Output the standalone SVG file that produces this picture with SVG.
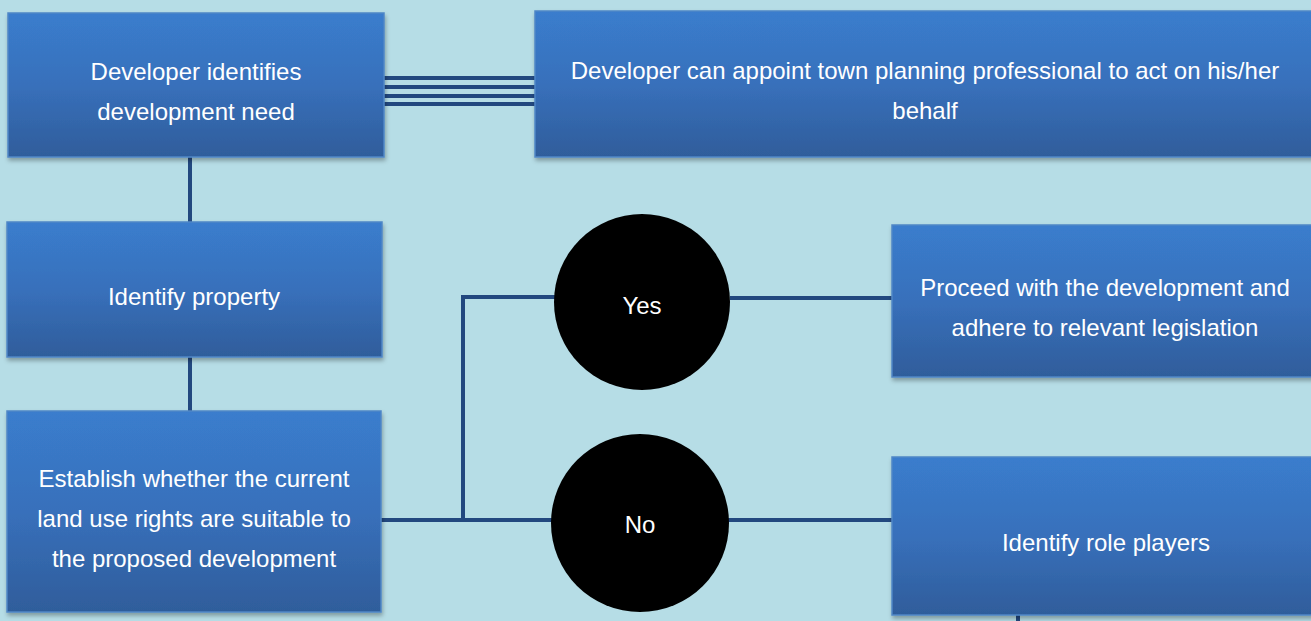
<svg xmlns="http://www.w3.org/2000/svg" width="1311" height="621" viewBox="0 0 1311 621">
<defs>
<linearGradient id="g" x1="0" y1="0" x2="0" y2="1">
<stop offset="0" stop-color="#3a7dcd"/>
<stop offset="0.5" stop-color="#3870bb"/>
<stop offset="1" stop-color="#2f5d9b"/>
</linearGradient>
<filter id="sh" x="-5%" y="-5%" width="110%" height="115%">
<feDropShadow dx="1" dy="3" stdDeviation="2" flood-color="#000" flood-opacity="0.3"/>
</filter>
<style>
.box{fill:url(#g);stroke:#4f86c6;stroke-width:1.5;filter:url(#sh)}
.t{font-family:"Liberation Sans",Arial,sans-serif;font-size:24px;fill:#ffffff;text-anchor:middle}
.c{stroke:#22487f;stroke-width:4;fill:none}
.circ{fill:#000000}
</style>
</defs>
<rect width="1311" height="621" fill="#b6dde6"/>
<g id="connectors">
<path class="c" d="M384 78H535M384 87H535M384 96H535M384 104H535"/>
<path class="c" d="M190 157V222"/>
<path class="c" d="M190 357V411"/>
<path class="c" d="M381 520H552"/>
<path class="c" d="M463 520V297H556"/>
<path class="c" d="M730 298H892"/>
<path class="c" d="M728 520H892"/>
<path class="c" d="M1018 615V621"/>
</g>
<g id="n1"><rect class="box" x="8" y="13" width="376" height="144"/>
<text class="t" x="196" y="80">Developer identifies</text><text class="t" x="196" y="120">development need</text></g>
<g id="n2"><rect class="box" x="535" y="11" width="790" height="146"/>
<text class="t" x="925" y="79">Developer can appoint town planning professional to act on his/her</text><text class="t" x="925" y="119">behalf</text></g>
<g id="n3"><rect class="box" x="7" y="222" width="375" height="135"/>
<text class="t" x="194" y="305">Identify property</text></g>
<g id="n4"><rect class="box" x="7" y="411" width="374" height="201"/>
<text class="t" x="194" y="487">Establish whether the current</text><text class="t" x="194" y="527">land use rights are suitable to</text><text class="t" x="194" y="567">the proposed development</text></g>
<g id="n5"><circle class="circ" cx="642" cy="302" r="88"/><text class="t" x="642" y="314">Yes</text></g>
<g id="n6"><circle class="circ" cx="640" cy="523" r="89"/><text class="t" x="640" y="533">No</text></g>
<g id="n7"><rect class="box" x="892" y="225" width="430" height="152"/>
<text class="t" x="1105" y="296">Proceed with the development and</text><text class="t" x="1105" y="336">adhere to relevant legislation</text></g>
<g id="n8"><rect class="box" x="892" y="457" width="430" height="158"/>
<text class="t" x="1106" y="551">Identify role players</text></g>
</svg>
